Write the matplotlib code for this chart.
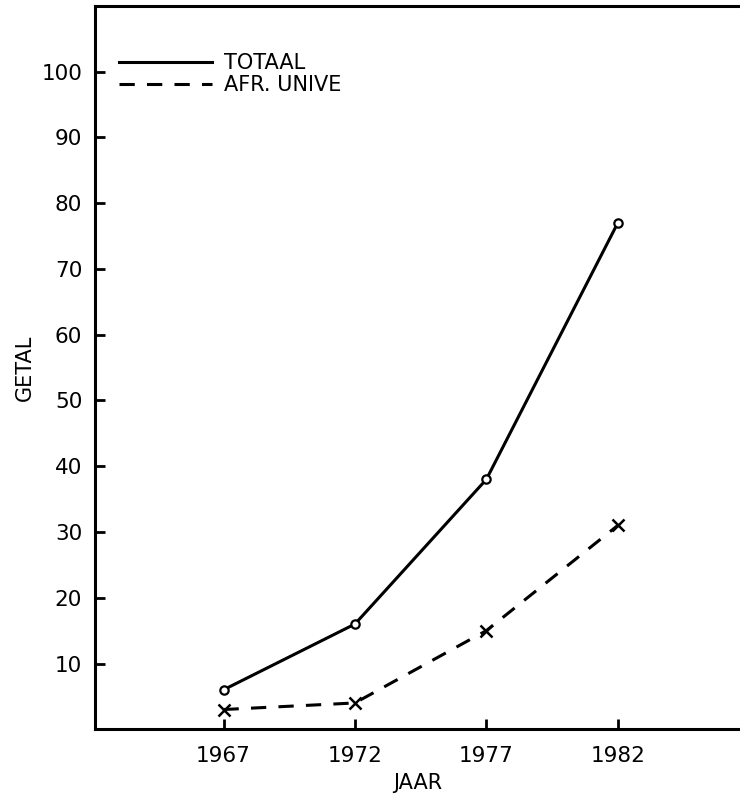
import matplotlib
matplotlib.use("Agg")
import matplotlib.pyplot as plt

# data
years = [1967, 1972, 1977, 1982]
totaal = [6, 16, 38, 77]
afr_unive = [3, 4, 15, 31]
y_ticks = [10, 20, 30, 40, 50, 60, 70, 80, 90, 100]

plt.rcParams['font.family'] = ['DejaVu Sans']

fig = plt.figure(figsize=(7.4, 7.97), dpi=100)
ax = fig.add_axes([0.128, 0.085, 0.872, 0.9075])

ax.plot(years, totaal, color='black', lw=2.2, label='TOTAAL')
ax.plot(years, afr_unive, color='black', lw=2.2, dashes=(5, 4), label='AFR. UNIVE')
ax.plot(years, totaal, ls='none', marker='o', ms=6, mfc='white', mec='black', mew=1.6)
ax.plot(years, afr_unive, ls='none', marker='x', ms=9, color='black', mew=1.8)

ax.set_xlim(1962.1, 1986.65)
ax.set_ylim(0, 110)
ax.set_xticks(years)
ax.set_yticks(y_ticks)
ax.tick_params(direction='in', length=7, width=2, labelsize=15.5)
ax.tick_params(axis='x', pad=12)
ax.tick_params(axis='y', pad=9)

for side in ['left', 'bottom', 'top']:
    ax.spines[side].set_linewidth(2.2)
ax.spines['right'].set_visible(False)

ax.set_ylabel('GETAL', fontsize=15, labelpad=5)
ax.set_xlabel('JAAR', fontsize=15, labelpad=5)

ax.legend(loc='upper left', bbox_to_anchor=(0.037, 0.935), frameon=False,
          fontsize=15, handlelength=4.5, handletextpad=0.55, labelspacing=0.12,
          borderaxespad=0, borderpad=0)

fig.savefig('out.png', dpi=100, facecolor='white')
